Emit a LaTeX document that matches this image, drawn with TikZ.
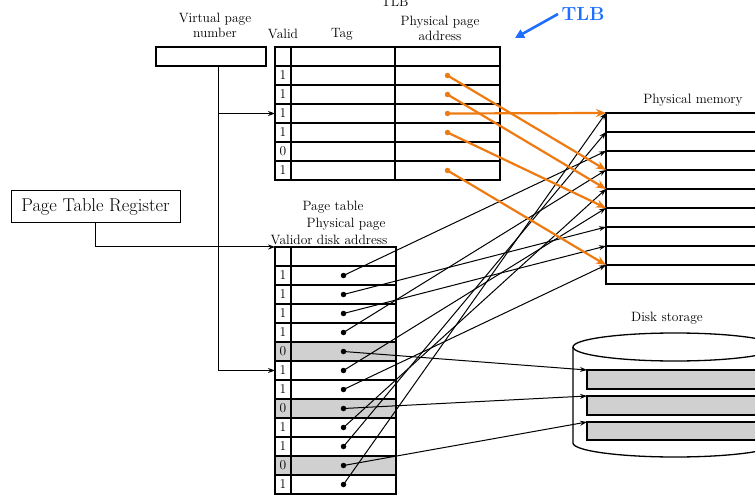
\documentclass[tikz,border=0pt]{standalone}
\usepackage{xcolor}
\usepackage{tikz}
\usetikzlibrary{positioning,arrows.meta}
\definecolor{tlbblue}{HTML}{1E6EFF}
\definecolor{hit}{HTML}{EE7A12}
\definecolor{cellgray}{HTML}{D0D0D0}

\begin{document}
\begin{tikzpicture}[x=1pt,y=-1pt,font=\fontsize{13.5}{15}\selectfont,
  cell/.style={draw,line width=1.3pt,inner sep=0pt,outer sep=0pt,minimum height=19pt},
  vcell/.style={cell,minimum width=16pt},
  lbl/.style={align=center,inner sep=1pt},
  dot/.style={circle,fill,inner sep=0pt,minimum size=5.5pt},
  arr/.style={-{Stealth[length=7pt,width=5pt]},line width=1pt},
  oarr/.style={-{Stealth[length=10pt,width=8pt]},line width=2.2pt,hit}]
\useasboundingbox (0,0) rectangle (755,497);
\clip (0,0) rectangle (755,497);
% virtual page number
\node[lbl] (vpnlbl) at (215,25) {Virtual page\\number};
\node[draw,line width=1.3pt,minimum width=110pt,minimum height=19pt,inner sep=0pt] (vpn) at (211,56.5) {};
\coordinate (vtap) at (218,66);
% TLB
\node[lbl] (tlbcut) at (395,2) {TLB};
\node[lbl] (validlbl) at (283,34) {Valid};
\node[lbl] (taglbl) at (342,34) {Tag};
\node[lbl] (addrlbl) at (440,28.5) {Physical page\\address};
\foreach \v [count=\k from 0] in {{},1,1,1,1,0,1} {
  \node[vcell] (tv\k) at (283,56.5+19*\k) {\v};
  \node[cell,minimum width=104pt,right=0pt of tv\k] (tt\k) {};
  \node[cell,minimum width=105pt,right=0pt of tt\k] (ta\k) {};
}
\foreach \k in {1,2,3,4,6} \node[dot,hit] (td\k) at (ta\k.center) {};
\node[font=\fontsize{19}{22}\selectfont\bfseries,text=tlbblue] (tlbtag) at (583,14) {TLB};
\coordinate (tlbpt) at (515,38);
\draw[-{Triangle[length=9pt,width=9pt]},line width=2.6pt,tlbblue] (tlbtag.west) -- (tlbpt);
% page table register
\node[draw,line width=1pt,minimum width=169pt,minimum height=32pt,font=\fontsize{18.5}{20}\selectfont] (ptr) at (95.5,207) {Page Table Register};
% page table
\node[lbl] (ptlbl) at (333,207) {Page table};
\node[lbl] (pplbl) at (346,224) {Physical page};
\node[lbl] (vdlbl) at (329,240) {Validor disk address};
\foreach \v/\f [count=\k from 0] in {{}/white,1/white,1/white,1/white,1/white,0/cellgray,1/white,1/white,0/cellgray,1/white,1/white,0/cellgray,1/white} {
  \node[vcell,fill=\f] (pv\k) at (283,256.5+19*\k) {\v};
  \node[cell,fill=\f,minimum width=105pt,right=0pt of pv\k] (pa\k) {};
}
\foreach \k in {1,...,12} \node[dot] (pd\k) at (pa\k.center) {};
% physical memory
\node[lbl] (memlbl) at (693,100) {Physical memory};
\foreach \k in {1,...,9} \node[cell,minimum width=160pt,anchor=north west] (m\k) at (606,94+19*\k) {};
% disk storage
\node[lbl] (disklbl) at (667,318) {Disk storage};
\draw[line width=1.3pt] (573,347) -- (573,443) arc[start angle=180,end angle=0,x radius=102,y radius=14] -- (777,347);
\draw[line width=1.3pt] (675,347) ellipse[x radius=102,y radius=14];
\node[cell,fill=cellgray,minimum width=190pt,anchor=north west] (d1) at (587,370) {};
\node[cell,fill=cellgray,minimum width=190pt,anchor=north west] (d2) at (587,396) {};
\node[cell,fill=cellgray,minimum width=190pt,minimum height=18pt,anchor=north west] (d3) at (587,422) {};
% feeds
\draw[arr] (vtap) |- (pv6.west);
\draw[arr] (vtap |- tv3.west) -- (tv3.west);
\draw[arr] (ptr.south) |- (pv0.north west);
% mappings
\foreach \s/\t in {1/3,2/7,3/8,4/4,6/6,7/9,9/5,10/2,12/1} \draw[arr] (pd\s.center) -- (m\t.north west);
\foreach \s/\t in {5/1,8/2,11/3} \draw[arr] (pd\s.center) -- (d\t.north west);
\foreach \s/\t in {1/4,2/5,3/1,4/6,6/9} \draw[oarr] (td\s.center) -- (m\t.north west);
\end{tikzpicture}
\end{document}
